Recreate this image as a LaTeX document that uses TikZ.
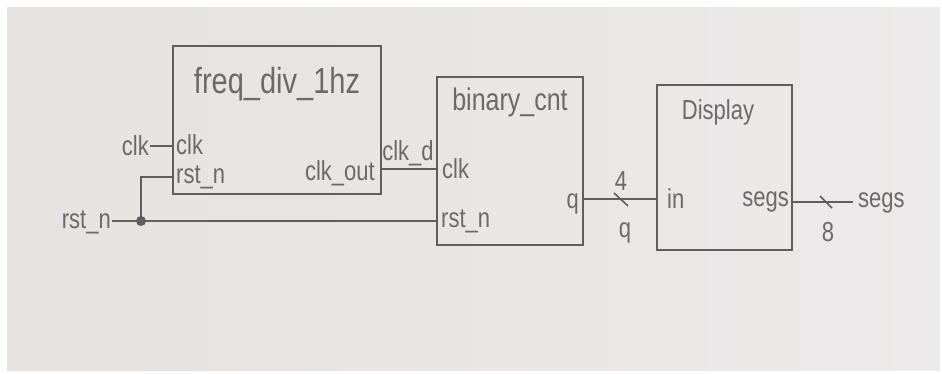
\documentclass[tikz,border=0pt]{standalone}
\usepackage{graphicx}
\usepackage{fontspec}
\setmainfont{Liberation Sans}
\definecolor{paper}{HTML}{E5E2E0}
\definecolor{paperb}{HTML}{ECEAEA}
\definecolor{pencil}{HTML}{5E5E5E}
\definecolor{ink}{HTML}{6A6A6A}
\newcommand{\tallt}[1]{\scalebox{1}[1.25]{#1}}
\begin{document}
\begin{tikzpicture}[x=1pt,y=-1pt,
  blk/.style={draw=pencil,line width=1.8pt,rectangle,inner sep=0pt},
  wire/.style={draw=pencil,line width=1.6pt},
  lbl/.style={text=ink,inner sep=1pt,font=\fontsize{22}{26}\selectfont},
  ttl/.style={text=ink,inner sep=1pt,font=\fontsize{25}{30}\selectfont}]
\useasboundingbox (0,0) rectangle (942,374);
\fill[white] (0,0) rectangle (942,374);
\shade[left color=paper,right color=paperb] (7,8) rectangle (940,370);
% blocks
\node[blk,minimum width=208pt,minimum height=148pt] (b1) at (277,120) {};
\node[blk,minimum width=146pt,minimum height=168pt] (b2) at (510,161) {};
\node[blk,minimum width=135pt,minimum height=165pt] (b3) at (724.5,167.5) {};
% titles
\node[ttl,font=\fontsize{29}{34}\selectfont] (t1) at (277,84) {\tallt{freq\_div\_1hz}};
\node[ttl] (t2) at (510,102) {\tallt{binary\_cnt}};
\node[ttl,font=\fontsize{22}{26}\selectfont] (t3) at (718,112) {\tallt{Display}};
% ports of block 1
\node[lbl,anchor=west] (p1clk) at (175,145) {\tallt{clk}};
\node[lbl,anchor=west] (p1rst) at (175,177) {\tallt{rst\_n}};
\node[lbl,anchor=east] (p1out) at (376,173) {\tallt{clk\_out}};
% ports of block 2
\node[lbl,anchor=west] (p2clk) at (441,169) {\tallt{clk}};
\node[lbl,anchor=west] (p2rst) at (440,221) {\tallt{rst\_n}};
\node[lbl,anchor=east] (p2q) at (580,204) {\tallt{q}};
% ports of block 3
\node[lbl,anchor=west] (p3in) at (666,199) {\tallt{in}};
\node[lbl,anchor=east] (p3segs) at (790,202) {\tallt{segs}};
% external labels
\node[lbl,anchor=east] (xclk) at (150,146) {\tallt{clk}};
\node[lbl,anchor=east] (xrst) at (112,222) {\tallt{rst\_n}};
\node[lbl,anchor=west] (xsegs) at (857,203) {\tallt{segs}};
\node[lbl] (lclkd) at (408,153) {\tallt{clk\_d}};
\node[lbl] (l4) at (621,181) {\tallt{4}};
\node[lbl] (lq) at (625,233) {\tallt{q}};
\node[lbl] (l8) at (828,232) {\tallt{8}};
% coordinates
\coordinate (j) at (141,221);
\coordinate (segsend) at (853,202);
% wires
\draw[wire] (xclk.east) -- (xclk.east -| b1.west);
\draw[wire] (xrst.east |- j) -- (j) -- (j -| b2.west);
\draw[wire] (j) -- (j |- p1rst) -- (p1rst -| b1.west);
\fill[pencil] (j) circle (5pt);
\draw[wire] (b1.east |- p2clk.west) -- (b2.west |- p2clk.west);
\draw[wire] (b2.east |- p3in.west) -- (b3.west |- p3in.west);
\draw[wire] (b3.east |- segsend) -- (segsend);
% bus slashes
\draw[wire] (614,193) -- (628,206);
\draw[wire] (820,196) -- (832,208);
\end{tikzpicture}
\end{document}
